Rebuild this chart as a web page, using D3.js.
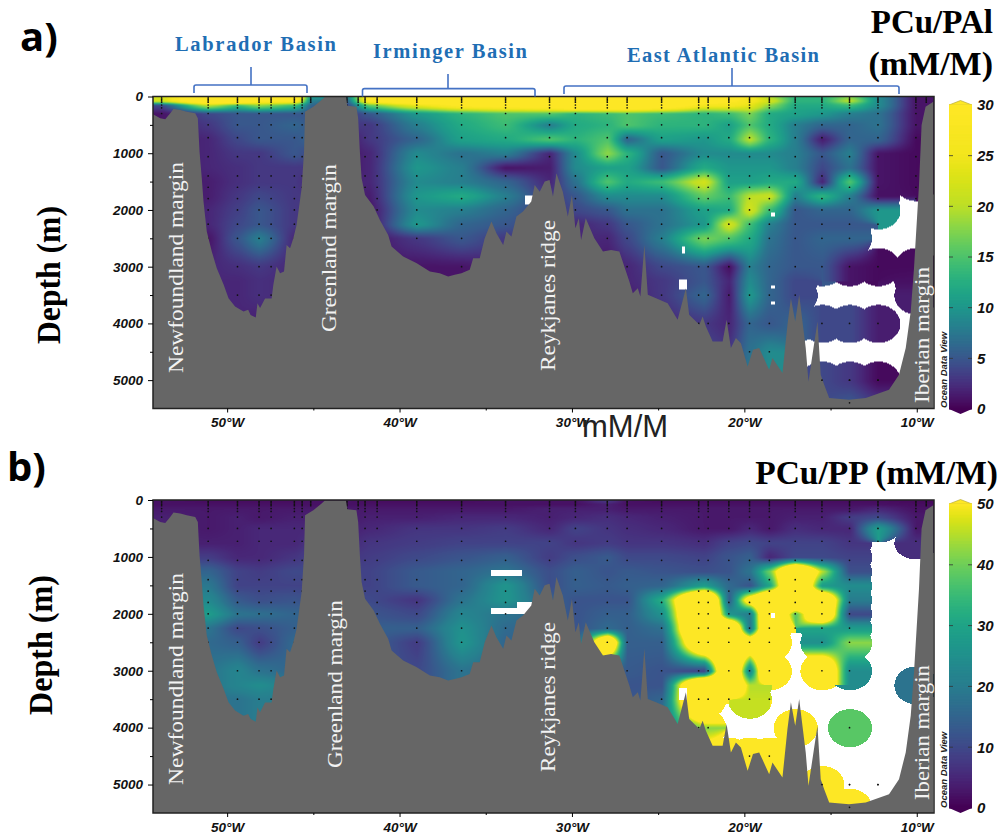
<!DOCTYPE html>
<html>
<head>
<meta charset="utf-8">
<style>
  body { margin: 0; background: #fff; }
  svg { display: block; }
  .serif { font-family: "Liberation Serif", serif; }
  .tick text { font-family: "Liberation Sans", sans-serif; font-weight: bold; font-style: italic; font-size: 13.5px; fill: #111; }
  .barlabels .tick text { font-size: 15px; }
</style>
</head>
<body>
<div id="chart"></div>
<script src="https://d3js.org/d3.v7.min.js"></script>
<script>
const _ = null;

// grid columns (deg W) and rows (m) of the two sections
const lons = [53.8, 51.1, 49.4, 48.15, 46.1, 45.15, 43.05, 41.75, 39.0, 36.4, 33.85, 31.3, 29.8, 27.95, 26.8, 24.8, 22.35, 20.9, 19.7, 18.55, 17.05, 15.5, 13.9, 12.25, 10.05];
const depths = [10, 70, 150, 300, 500, 750, 1000, 1250, 1500, 1750, 2000, 2250, 2500, 3000, 3250, 3500, 4000, 4500, 5000, 5400];

// PCu/PAl, one row per depth
const valuesA = [
  [22,40,40,34,34,10,8,30,40,40,40,40,40,40,40,40,40,34,26,20,13,13,18,9,1],
  [22,40,40,30,30,8,6,30,40,40,40,40,40,40,40,40,36,30,26,22,13,13,20,9,1],
  [4,20,14,18,14,6,4,16,24,30,32,34,40,40,40,36,26,26,24,18,12,12,14,9,1],
  [1,4,5,5,5,5,3,5,10,13,15,15,13,14,15,14,13,14,17,12,11,10,8,7,1],
  [1,3,5,5,6,5,3,3,8,12,14,8,12,13,15,13,13,11,15,12,8,6,6,7,1],
  [1,2,4,5,5,6,1,3,6,11,12,15,13,15,6,11,10,12,20,13,8,1.5,6,6,0.5],
  [1,2,3,3,5,4,1,2,9,7,8,2,9,18,13,5,9,9,9,9,8,5,8,1,0.5],
  [1,2,2.5,3,3,3,1,2,10,8,1,1.5,9,11,11,5,12,10,10,10,8,4,7,1,0.5],
  [1,1.5,2.5,3,3,2,1.5,2,9,8,6,2,7,15,12,14,22,11,11,12,12,2,15,1,0.5],
  [1,1.5,3,4,3,3,1.5,1.5,10,12,8,3,5,9,9,9,16,14,20,21,8,13,8,0.8,_],
  [1,2,3.5,5,3,3,1,1,9,8,6,3,4,5,7,7,11,12,22,14,5,6,6,10,_],
  [1,2,4,5,3,3,1,1,10,6,5,3,2,3,5,7,10,22,14,8,5,5,5,_,_],
  [1,1,5,8,2,2,1,1,3,5,3,3,2,2,4,8,17,15,12,7,5,6,6,_,_],
  [1,2,2.5,3,2,2,1,1,1,1,2,3,2,1,2,4,5,0.8,8,6,5,5,1,0.5,0.5],
  [1,2,2,2.5,2,2,1,1,1,1,2,3,2,1,2,3,5,2,9,6,4,_,_,_,0.8],
  [1,2,2,2.5,2,2,1,1,1,1,2,3,2,1,1.5,3,6,1.5,10,6,4,_,_,_,1.5],
  [1,2,2,1.5,2,2,1,1,1,1,2,3,2,1,1.5,2,3,2,6,5,6,4,4,1.5,_],
  [1,2,2,1.5,2,2,1,1,1,1,2,3,2,1,1.5,2,4,3,7,9,_,_,_,_,_],
  [1,2,2,1.5,2,2,1,1,1,1,2,3,2,1,1.5,2,4,3,8,9,_,4,3,0.5,_],
  [1,2,2,1.5,2,2,1,1,1,1,2,3,2,1,1.5,2,4,3,8,9,_,4,5,3,_]
];

// PCu/PP
const valuesB = [
  [2,1.5,1.5,1.5,1.5,2,2,1.5,1.5,1.5,2,2,2,7,2,1.5,1.5,1.5,1.5,1.5,1.5,1.5,1.5,1.5,1],
  [2,2,2,2,2,2,2,2,2,2,2,2,2,4,2,2,2,2,2,2,2,2,2,2,1.5],
  [3,3,3,3,3,3,3,3,3,3,3,4,4,4,3,3,3,3,3,3,3,3,3,5,2],
  [4,3,4,3,4,4,3,4,4,5,5,4,5,6,5,4,3,3,3,3,4,4,8,10,3],
  [4,3,4,5,5,5,4,5,7,7,8,5,9,7,6,5,3,3,5,3,6,5,5,28,3],
  [4,4,4,5,5,7,5,7,8,9,9,9,7,8,7,7,6,9,10,9,9,9,7,_,6],
  [8,8,5,5,7,9,7,8,10,12,14,8,11,13,10,10,9,12,14,5,10,10,9,_,_],
  [15,15,9,8,10,10,9,9,13,15,18,11,14,12,13,12,11,12,18,40,90,45,11,_,_],
  [19,19,9,9,9,9,9,9,13,15,26,11,14,13,14,15,28,16,12,30,90,28,24,_,_],
  [23,23,13,11,12,11,10,10,7,18,26,14,12,12,12,32,100,14,60,90,90,80,20,_,_],
  [28,28,18,17,15,15,12,12,10,22,18,14,12,14,14,25,100,26,20,90,38,80,10,_,_],
  [18,18,10,11,14,14,14,14,14,25,16,14,12,16,14,17,100,90,18,90,_,30,28,_,_],
  [16,16,14,8,16,14,14,14,8,26,15,14,12,80,14,14,80,90,70,90,_,25,42,_,_],
  [16,18,22,18,15,14,12,12,10,18,15,14,12,14,13,12,9,90,22,90,_,80,24,_,_],
  [16,18,22,24,20,14,12,12,10,18,15,14,12,14,12,12,100,80,45,_,_,_,_,_,18],
  [16,18,18,20,20,14,12,12,10,18,15,14,12,14,12,15,100,_,46,_,_,_,_,_,_],
  [16,18,18,20,20,14,12,12,10,18,15,14,12,14,12,22,42,_,_,_,90,_,38,_,_],
  [16,18,18,20,20,14,12,12,10,18,15,14,12,14,12,22,60,60,50,60,_,_,_,_,_],
  [16,18,18,20,20,14,12,12,10,18,15,14,12,14,12,22,60,60,50,60,_,80,_,_,_],
  [16,18,18,20,20,14,12,12,10,18,15,14,12,14,12,22,60,60,50,60,_,80,80,_,_]
];

// small holes in the gridded field: lon west, lon east, depth top, depth bottom
const gapsA = [[32.7,32.3,1750,1900],[23.8,23.35,3230,3400],[18.47,18.27,2040,2100],[18.47,18.27,3330,3370],[18.47,18.27,3620,3660],[23.6,23.5,2650,2750]];
const gapsB = [[34.67,32.94,1230,1330],[34.67,32.3,1893,2000],[33.2,32.2,1800,2000],[23.8,23.35,3300,3500],[18.47,18.27,1990,2060]];

// seafloor
const bathyLon = [54.3,53.88,53.59,53.3,53.11,52.72,52.34,51.85,51.7,51.6,51.47,51.37,51.18,50.89,50.6,50.2,49.92,49.54,49.05,48.78,48.64,48.34,48.24,48.09,47.8,47.42,47.32,47.13,46.93,46.7,46.55,46.35,46.16,45.97,45.68,45.54,45.48,45.0,44.52,44.33,43.11,43.03,42.5,42.4,42.3,42.2,42.0,41.5,41.14,40.66,40.46,39.79,39.0,38.24,37.67,37.18,36.8,36.41,35.93,35.73,35.35,35.06,34.67,34.38,33.99,33.8,33.51,33.22,32.84,32.36,32.16,31.87,31.58,31.3,31.1,30.9,30.53,30.24,30.0,29.8,29.6,29.47,29.2,28.7,28.2,27.73,27.25,26.67,26.47,26.18,26.03,25.8,25.6,25.12,24.45,23.87,23.39,23.2,22.61,22.42,22.23,21.84,21.26,21.03,20.78,20.49,20.2,19.81,19.5,19.14,18.56,18.37,17.79,17.5,17.3,17.05,16.82,16.44,16.28,15.76,15.57,15.37,15.08,13.93,12.96,11.61,11.03,10.64,10.35,10.16,9.87,9.72,9.49,9.04];
const bathyDepth = [315,385,403,297,220,238,268,297,385,972,1442,1853,2381,2733,3026,3320,3555,3701,3790,3760,3850,3895,3643,3730,3560,3560,3320,2997,3115,3085,2616,2675,2498,2263,1618,972,268,180,62,10,10,162,180,385,972,1442,1735,1941,2175,2440,2645,2821,2938,3085,3115,3173,3144,3115,3056,2850,2850,2498,2205,2410,2616,2381,2469,2117,2028,1853,1560,1677,1500,1471,1765,1354,1677,2117,1735,2322,2146,2528,2146,2498,2733,2704,2733,3261,3467,3379,3525,2616,3496,3555,3643,3936,3379,3848,4024,3878,4054,4318,4318,3936,4435,4259,4350,4758,4465,4435,4817,4611,4876,4024,3555,3966,3496,4435,5022,3966,4905,5081,5316,5345,5316,5169,4905,4435,3790,3026,1559,502,180,91];

// sampling stations and the levels bottles were taken at
const stationLon = [53.8,51.1,49.4,48.15,47.45,46.1,45.65,45.15,43.05,42.4,42.0,41.3,39.0,36.4,33.85,31.3,29.8,27.95,26.8,24.8,22.65,22.1,20.9,19.7,18.55,17.05,15.5,13.9,12.25,10.05,9.45];
const stationBottom = [300,2500,3750,3750,3750,2500,1600,100,150,150,1800,2100,3000,3100,2400,1300,2200,2750,3200,3500,4200,4500,4000,4600,4500,4000,5000,5450,5300,3300,100];
const bottleLevels = [25,50,75,100,150,200,300,500,725,1060,1400,1600,1800,2000,2250,2500,3000,3500,4000,4500,5000,5400];

// axis ticks
const lonTicks = [50, 40, 30, 20, 10];
const lonMinor = [45, 35, 25, 15];
const depthTicks = [0, 1000, 2000, 3000, 4000, 5000];
const depthMinor = [500, 1500, 2500, 3500, 4500];
const barTicksA = [0, 5, 10, 15, 20, 25, 30];
const barTicksB = [0, 10, 20, 30, 40, 50];
// where each colour bar tick sits along viridis
const barStopsA = [0, 0.27, 0.53, 0.72, 0.9, 0.98, 1];
const barStopsB = [0, 0.22, 0.42, 0.58, 0.78, 1];

const svg = d3.select("#chart").append("svg").attr("width", 1001).attr("height", 839);
svg.append("rect").attr("width", 1001).attr("height", 839).attr("fill", "#fff");

// mostly linear between grid nodes, slightly eased
function ease(t) { return 0.6 * t + 0.4 * t * t * (3 - 2 * t); }

function drawPanel(p) {
  var x = d3.scaleLinear().domain([54.3, 9.0]).range([153, 934]);
  var y = d3.scaleLinear().domain([0, 5500]).range([p.top, p.bottom]);
  var stop = d3.scaleLinear().domain(p.barTicks).range(p.barStops).clamp(true);
  var color = function(v) { return d3.interpolateViridis(stop(v)); };

  var W = 781, H = Math.round(p.bottom - p.top);
  var xs = lons.map(function(d) { return x(d) - 153; });
  var ys = depths.map(function(d) { return y(d) - p.top; });

  // a pixel only has a colour when it is close enough to a sample
  var mask = new Uint8Array(W * H), near = new Float32Array(W * H);
  p.values.forEach(function(row, j) {
    var ry = Math.min(19, 8 + depths[j] / 1000 * 11), rx = 22;
    row.forEach(function(v, i) {
      if (v === null) return;
      for (var py = Math.max(0, Math.floor(ys[j] - ry)); py <= Math.min(H - 1, ys[j] + ry); py++) {
        for (var px = Math.max(0, Math.floor(xs[i] - rx)); px <= Math.min(W - 1, xs[i] + rx); px++) {
          var dx = (px - xs[i]) / rx, dy = (py - ys[j]) / ry;
          if (dx * dx + dy * dy <= 1) { mask[py * W + px] = 1; near[py * W + px] = v; }
        }
      }
    });
  });
  // grid cells with all four corners are always filled
  for (var cj = 0; cj < ys.length - 1; cj++) {
    for (var ci = 0; ci < xs.length - 1; ci++) {
      if (p.values[cj][ci] === null || p.values[cj][ci + 1] === null || p.values[cj + 1][ci] === null || p.values[cj + 1][ci + 1] === null) continue;
      for (var qy = Math.floor(ys[cj]); qy <= Math.min(H - 1, ys[cj + 1]); qy++) {
        for (var qx = Math.floor(xs[ci]); qx <= Math.min(W - 1, xs[ci + 1]); qx++) mask[qy * W + qx] = 1;
      }
    }
  }
  // edges of the plot outside the outer columns and rows
  for (var ey = 0; ey < H; ey++) {
    for (var ex = 0; ex < xs[0]; ex++) mask[ey * W + ex] = 1;
  }
  for (var ex2 = 0; ex2 < W; ex2++) {
    if (ex2 < xs[xs.length - 1]) for (var ey2 = 0; ey2 < ys[0] + 1; ey2++) mask[ey2 * W + ex2] = 1;
  }
  p.gaps.forEach(function(g) {
    for (var py = Math.round(y(g[2]) - p.top); py <= y(g[3]) - p.top; py++) {
      for (var px = Math.round(x(g[0]) - 153); px <= x(g[1]) - 153; px++) mask[py * W + px] = 0;
    }
  });

  var canvas = document.createElement("canvas");
  canvas.width = W; canvas.height = H;
  var ctx = canvas.getContext("2d");
  var img = ctx.createImageData(W, H);
  for (var py = 0; py < H; py++) {
    var j = Math.min(ys.length - 2, Math.max(0, d3.bisectRight(ys, py) - 1));
    var ty = ease(Math.max(0, Math.min(1, (py - ys[j]) / (ys[j + 1] - ys[j]))));
    for (var px = 0; px < W; px++) {
      var k = (py * W + px) * 4;
      img.data[k + 3] = 255;
      if (!mask[py * W + px]) { img.data[k] = img.data[k + 1] = img.data[k + 2] = 255; continue; }
      var i = Math.min(xs.length - 2, Math.max(0, d3.bisectRight(xs, px) - 1));
      var tx = ease(Math.max(0, Math.min(1, (px - xs[i]) / (xs[i + 1] - xs[i]))));
      var sum = 0, wsum = 0;
      [[i, j, (1 - tx) * (1 - ty)], [i + 1, j, tx * (1 - ty)], [i, j + 1, (1 - tx) * ty], [i + 1, j + 1, tx * ty]].forEach(function(c) {
        var v = p.values[c[1]][c[0]];
        if (v !== null) { sum += v * c[2]; wsum += c[2]; }
      });
      var val = wsum > 0.0001 ? sum / wsum : near[py * W + px];
      var rgb = d3.rgb(color(val));
      img.data[k] = rgb.r; img.data[k + 1] = rgb.g; img.data[k + 2] = rgb.b;
    }
  }
  ctx.putImageData(img, 0, 0);
  svg.append("image").attr("x", 153).attr("y", p.top).attr("width", W).attr("height", H)
    .attr("href", canvas.toDataURL());

  // station dots, none on the empty parts of the field
  var dots = [];
  stationLon.forEach(function(lon, s) {
    bottleLevels.forEach(function(d) {
      if (d > stationBottom[s]) return;
      var px = Math.round(x(lon) - 153), py = Math.round(y(d) - p.top);
      if (mask[py * W + px] || d > 4900) dots.push([lon, d]);
    });
  });
  svg.append("g").selectAll("circle").data(dots).join("circle")
    .attr("cx", function(d) { return x(d[0]); })
    .attr("cy", function(d) { return y(d[1]); })
    .attr("r", 0.85).attr("fill", "#111");

  // seafloor
  var area = d3.area()
    .x(function(d, i) { return x(d); })
    .y0(y(5500))
    .y1(function(d, i) { return y(bathyDepth[i]); });
  svg.append("path").datum(bathyLon).attr("d", area).attr("fill", "#666666");

  // dots sitting in the rock show through in the original
  svg.append("g").selectAll("circle").data(dots.filter(function(d) { return d[1] > 4900; })).join("circle")
    .attr("cx", function(d) { return x(d[0]); })
    .attr("cy", function(d) { return y(d[1]); })
    .attr("r", 0.85).attr("fill", "#111");

  svg.append("rect").attr("x", 153).attr("y", p.top).attr("width", W).attr("height", H)
    .attr("fill", "none").attr("stroke", "#222").attr("stroke-width", 1.5);

  // axes
  var axisY = svg.append("g").attr("transform", "translate(153,0)")
    .call(d3.axisLeft(y).tickValues(depthTicks).tickSize(5).tickPadding(5).tickFormat(d3.format("d")));
  axisY.select(".domain").remove();
  svg.append("g").attr("transform", "translate(153,0)")
    .call(d3.axisLeft(y).tickValues(depthMinor).tickSize(3).tickFormat(""))
    .select(".domain").remove();

  var axisX = svg.append("g").attr("transform", "translate(0," + p.bottom + ")")
    .call(d3.axisBottom(x).tickValues(lonTicks).tickSize(4).tickPadding(5).tickFormat(function(d) { return d + "°W"; }));
  axisX.select(".domain").remove();
  svg.append("g").attr("transform", "translate(0," + p.bottom + ")")
    .call(d3.axisBottom(x).tickValues(lonMinor).tickSize(2).tickFormat(""))
    .select(".domain").remove();

  // colour bar
  var bar = d3.scaleLinear().domain([0, p.max]).range([p.barBottom, p.barTop]);
  var barX = 949, barW = 23;
  svg.append("path")
    .attr("d", "M" + barX + "," + bar(p.max) + "L" + (barX + barW / 2) + "," + (bar(p.max) - 4.5) + "L" + (barX + barW) + "," + bar(p.max) + "Z")
    .attr("fill", color(p.max)).attr("stroke", "#b5a83a").attr("stroke-width", 0.7);
  svg.append("path")
    .attr("d", "M" + barX + "," + bar(0) + "L" + (barX + barW / 2) + "," + (bar(0) + 5) + "L" + (barX + barW) + "," + bar(0) + "Z")
    .attr("fill", color(0));
  svg.append("g").selectAll("rect").data(d3.range(0, p.max, p.max / 200)).join("rect")
    .attr("x", barX).attr("width", barW)
    .attr("y", function(d) { return bar(d + p.max / 200) - 0.5; })
    .attr("height", Math.abs(bar(0) - bar(p.max / 200)) + 1)
    .attr("fill", function(d) { return color(d); });
  var barAxis = svg.append("g").attr("class", "barlabels").attr("transform", "translate(" + (barX + barW) + ",0)")
    .call(d3.axisRight(bar).tickValues(p.barTicks).tickSize(0).tickPadding(5));
  barAxis.select(".domain").remove();
  [barX, barX + barW - 4].forEach(function(x0) {
    svg.append("g").selectAll("line").data(p.barTicks.filter(function(d) { return d > 0 && d < p.max; })).join("line")
      .attr("x1", x0).attr("x2", x0 + 4)
      .attr("y1", function(d) { return bar(d); }).attr("y2", function(d) { return bar(d); })
      .attr("stroke", "#333").attr("stroke-width", 0.8);
  });

  // section labels
  p.labels.forEach(function(l) {
    svg.append("text").attr("class", "serif")
      .attr("transform", "translate(" + l[1] + "," + l[2] + ") rotate(-90)")
      .attr("textLength", l[3]).attr("lengthAdjust", "spacingAndGlyphs")
      .attr("font-size", l[4]).attr("fill", "#f2f2f2").text(l[0]);
  });
  svg.append("text").attr("transform", "translate(947," + p.odv + ") rotate(-90)")
    .attr("font-family", "Liberation Sans").attr("font-weight", "bold").attr("font-style", "italic")
    .attr("font-size", 9.5).attr("fill", "#222").text("Ocean Data View");
}

drawPanel({
  top: 96.5, bottom: 408.5, max: 30, values: valuesA, gaps: gapsA,
  barTop: 105, barBottom: 409, barTicks: barTicksA, barStops: barStopsA, odv: 408,
  labels: [["Newfoundland  margin", 183, 373, 211, 22], ["Greenland margin", 336, 332, 168, 22], ["Reykjanes ridge", 555, 371, 151, 22], ["Iberian margin", 929, 403, 136, 22]]
});
drawPanel({
  top: 500, bottom: 813, max: 50, values: valuesB, gaps: gapsB,
  barTop: 504, barBottom: 808, barTicks: barTicksB, barStops: barStopsB, odv: 808,
  labels: [["Newfoundland  margin", 183, 785, 212, 22], ["Greenland margin", 342, 768, 168, 22], ["Reykjanes ridge", 555, 772, 150, 22], ["Iberian margin", 929, 800, 135, 22]]
});

// basin brackets
const basinNames = ["Labrador  Basin", "Irminger  Basin", "East Atlantic Basin"];
const basinLeft = [194, 362.5, 564], basinRight = [307, 535, 899], basinTop = [85, 88.6, 86], basinStem = [251, 448, 732], basinStemTop = [67, 74, 68];
const basinTextLeft = [175, 373, 627], basinTextLen = [161, 154, 192], basinTextY = [51, 58, 62];
basinNames.forEach(function(name, i) {
  var t = basinTop[i];
  svg.append("path")
    .attr("d", "M" + basinLeft[i] + "," + (t + 8) + "V" + (t + 2) + "Q" + basinLeft[i] + "," + t + " " + (basinLeft[i] + 2) + "," + t +
      "H" + (basinRight[i] - 2) + "Q" + basinRight[i] + "," + t + " " + basinRight[i] + "," + (t + 2) + "V" + (t + 8) +
      "M" + basinStem[i] + "," + t + "V" + basinStemTop[i])
    .attr("fill", "none").attr("stroke", "#4472c4").attr("stroke-width", 1.6);
  svg.append("text").attr("class", "serif").attr("x", basinTextLeft[i]).attr("y", basinTextY[i])
    .attr("textLength", basinTextLen[i]).attr("lengthAdjust", "spacing")
    .attr("font-weight", "bold").attr("font-size", 20.5)
    .attr("fill", "#1f6eb4").text(name);
});

// titles
function bold(txt, x0, y0, size, anchor) {
  return svg.append("text").attr("class", "serif").attr("x", x0).attr("y", y0)
    .attr("text-anchor", anchor).attr("font-weight", "bold").attr("font-size", size).attr("fill", "#000").text(txt);
}
bold("PCu/PAl", 993, 33, 33, "end");
bold("(mM/M)", 993, 75, 34, "end");
bold("PCu/PP (mM/M)", 998, 484, 33.5, "end");

svg.append("text").attr("class", "serif").attr("transform", "translate(60,344) rotate(-90)")
  .attr("font-weight", "bold").attr("font-size", 34).attr("textLength", 138).attr("lengthAdjust", "spacingAndGlyphs").text("Depth (m)");
svg.append("text").attr("class", "serif").attr("transform", "translate(52,715) rotate(-90)")
  .attr("font-weight", "bold").attr("font-size", 34).attr("textLength", 140).attr("lengthAdjust", "spacingAndGlyphs").text("Depth (m)");

svg.append("text").attr("x", 20).attr("y", 51).attr("font-family", "Open Sans").attr("font-weight", "bold").attr("font-size", 40).text("a)");
svg.append("text").attr("x", 7).attr("y", 481).attr("font-family", "Open Sans").attr("font-weight", "bold").attr("font-size", 40).text("b)");

svg.append("text").attr("x", 582).attr("y", 437).attr("font-family", "Liberation Sans").attr("font-size", 31).attr("fill", "#222").text("mM/M");
</script>
</body>
</html>
